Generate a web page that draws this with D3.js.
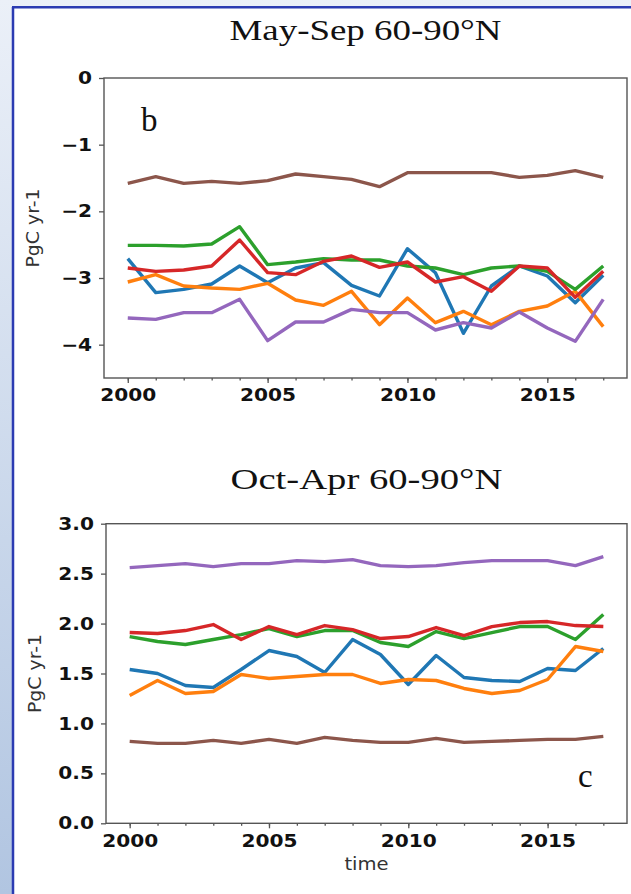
<!DOCTYPE html>
<html>
<head>
  <meta charset="UTF-8">
  <title>NEE 60-90N</title>
  <script src="https://d3js.org/d3.v7.min.js"></script>
  <style>
    body { margin: 0; padding: 0; }
    svg { display: block; }
    .tick text { font-family: "DejaVu Sans", sans-serif; font-weight: bold; font-size: 17.5px; fill: #111; }
    .tick line { stroke: #555; stroke-width: 1.3; }
    .domain { display: none; }
    .title { font-family: "Liberation Serif", "Times New Roman", serif; font-size: 30px; fill: #111; }
    .panel { font-family: "Liberation Serif", serif; font-size: 33px; fill: #111; }
    .ylab, .xlab { font-family: "DejaVu Sans", sans-serif; font-size: 17px; fill: #333; }
  </style>
</head>
<body>
<svg id="chart" width="631" height="894"></svg>
<script>
// years on the x axis
var years = d3.range(2000, 2018);
var xTicks = [2000, 2005, 2010, 2015];

// May-Sep (panel b)
var ySummerTicks = [0, -1, -2, -3, -4];
var sumBlue   = [-2.71, -3.22, -3.17, -3.09, -2.82, -3.07, -2.85, -2.77, -3.11, -3.27, -2.56, -2.92, -3.83, -3.12, -2.82, -2.97, -3.37, -2.96];
var sumOrange = [-3.06, -2.95, -3.12, -3.15, -3.17, -3.08, -3.33, -3.41, -3.20, -3.70, -3.30, -3.67, -3.50, -3.70, -3.50, -3.42, -3.20, -3.73];
var sumGreen  = [-2.51, -2.51, -2.52, -2.49, -2.23, -2.80, -2.76, -2.71, -2.73, -2.73, -2.82, -2.85, -2.95, -2.85, -2.82, -2.90, -3.17, -2.82];
var sumRed    = [-2.85, -2.90, -2.88, -2.82, -2.43, -2.92, -2.95, -2.75, -2.67, -2.84, -2.76, -3.06, -2.98, -3.20, -2.82, -2.85, -3.29, -2.90];
var sumPurple = [-3.60, -3.62, -3.52, -3.52, -3.32, -3.94, -3.66, -3.66, -3.47, -3.52, -3.52, -3.78, -3.67, -3.75, -3.51, -3.75, -3.95, -3.32];
var sumBrown  = [-1.58, -1.48, -1.58, -1.55, -1.58, -1.54, -1.44, -1.48, -1.52, -1.63, -1.42, -1.42, -1.42, -1.42, -1.49, -1.46, -1.39, -1.49];

// Oct-Apr (panel c)
var yWinterTicks = [0, 0.5, 1, 1.5, 2, 2.5, 3];
var winBlue   = [1.54, 1.50, 1.38, 1.36, 1.54, 1.73, 1.67, 1.51, 1.84, 1.69, 1.39, 1.68, 1.46, 1.43, 1.42, 1.55, 1.53, 1.75];
var winOrange = [1.28, 1.43, 1.30, 1.32, 1.49, 1.45, 1.47, 1.49, 1.49, 1.40, 1.44, 1.43, 1.35, 1.30, 1.33, 1.44, 1.77, 1.72];
var winGreen  = [1.87, 1.82, 1.79, 1.84, 1.89, 1.95, 1.87, 1.93, 1.93, 1.81, 1.77, 1.92, 1.85, 1.91, 1.97, 1.97, 1.84, 2.09];
var winRed    = [1.91, 1.90, 1.93, 1.99, 1.84, 1.97, 1.89, 1.98, 1.94, 1.85, 1.87, 1.96, 1.88, 1.97, 2.01, 2.02, 1.98, 1.97];
var winPurple = [2.56, 2.58, 2.60, 2.57, 2.60, 2.60, 2.63, 2.62, 2.64, 2.58, 2.57, 2.58, 2.61, 2.63, 2.63, 2.63, 2.58, 2.67];
var winBrown  = [0.82, 0.80, 0.80, 0.83, 0.80, 0.84, 0.80, 0.86, 0.83, 0.81, 0.81, 0.85, 0.81, 0.82, 0.83, 0.84, 0.84, 0.87];

var colors = ["#1f77b4", "#ff7f0e", "#2ca02c", "#d62728", "#9467bd", "#8c564b"];
var stretch = 1.15;  // source figure is a bit wider than tall

var svg = d3.select("#chart");

// slide background and frame
var grad = svg.append("defs").append("linearGradient")
  .attr("id", "bg").attr("x1", 0).attr("y1", 0).attr("x2", 0).attr("y2", 1);
grad.append("stop").attr("offset", "0%").attr("stop-color", "#ebf0f8");
grad.append("stop").attr("offset", "100%").attr("stop-color", "#b1c5e1");
svg.append("rect").attr("width", 631).attr("height", 894).attr("fill", "url(#bg)");
svg.append("rect").attr("x", 13).attr("y", 7).attr("width", 620).attr("height", 890).attr("fill", "#fff");
svg.append("line").attr("x1", 13).attr("y1", 7).attr("x2", 13).attr("y2", 894)
  .attr("stroke", "#2b3bb2").attr("stroke-width", 2.5);
svg.append("line").attr("x1", 12).attr("y1", 7.3).attr("x2", 631).attr("y2", 7.3)
  .attr("stroke", "#2b3bb2").attr("stroke-width", 2.5);

function widen(sel, f) {
  sel.each(function() {
    var len = this.getComputedTextLength();
    d3.select(this).attr("textLength", len * f).attr("lengthAdjust", "spacingAndGlyphs");
  });
}

function panel(opt) {
  var x = d3.scaleLinear().domain([1999.15, 2017.85]).range([opt.left, opt.right]);
  var y = d3.scaleLinear().domain(opt.yDomain).range([opt.bottom, opt.top]);
  var g = svg.append("g");

  // minor year ticks
  g.append("g").attr("transform", "translate(0," + opt.bottom + ")")
    .call(d3.axisBottom(x).tickValues(years).tickSize(2.5).tickFormat(""));

  var xa = g.append("g").attr("transform", "translate(0," + opt.bottom + ")")
    .call(d3.axisBottom(x).tickValues(xTicks).tickSize(5).tickPadding(6).tickFormat(d3.format("d")));
  widen(xa.selectAll("text"), stretch);

  var ya = g.append("g").attr("transform", "translate(" + opt.left + ",0)")
    .call(d3.axisLeft(y).tickValues(opt.yTicks).tickSize(5).tickPadding(7).tickFormat(opt.fmt));
  widen(ya.selectAll("text"), stretch);

  var line = d3.line().x(function(d, i) { return x(years[i]); }).y(function(d) { return y(d); });
  opt.series.forEach(function(s, i) {
    g.append("path").datum(s).attr("d", line)
      .attr("fill", "none").attr("stroke", colors[i]).attr("stroke-width", 3.4)
      .attr("stroke-linejoin", "round").attr("stroke-linecap", "butt");
  });

  g.append("rect").attr("x", opt.left).attr("y", opt.top)
    .attr("width", opt.right - opt.left).attr("height", opt.bottom - opt.top)
    .attr("fill", "none").attr("stroke", "#555").attr("stroke-width", 1.4);

  var t = g.append("text").attr("class", "title")
    .attr("x", (opt.left + opt.right) / 2).attr("y", opt.titleY)
    .attr("text-anchor", "middle").text(opt.title);
  t.attr("textLength", 272).attr("lengthAdjust", "spacingAndGlyphs");

  var yl = g.append("text").attr("class", "ylab")
    .attr("transform", "translate(" + opt.ylabX + "," + ((opt.top + opt.bottom) / 2) + ") rotate(-90)")
    .attr("text-anchor", "middle").text("PgC yr-1");
  yl.attr("textLength", 79).attr("lengthAdjust", "spacingAndGlyphs");

  g.append("text").attr("class", "panel")
    .attr("x", opt.tagX).attr("y", opt.tagY).text(opt.tag);

  if (opt.xlabel) {
    var xl = g.append("text").attr("class", "xlab")
      .attr("x", (opt.left + opt.right) / 2).attr("y", opt.bottom + 47)
      .attr("text-anchor", "middle").text(opt.xlabel);
    widen(xl, stretch);
  }
}

panel({
  left: 104, right: 627, top: 78, bottom: 378,
  yDomain: [-4.5, 0], yTicks: ySummerTicks,
  fmt: function(d) { return d === 0 ? "0" : "\u2212" + Math.abs(d); },
  series: [sumBlue, sumOrange, sumGreen, sumRed, sumPurple, sumBrown],
  title: "May-Sep 60-90\u00b0N", titleY: 39.5,
  ylabX: 39, tag: "b", tagX: 141, tagY: 131
});

panel({
  left: 106, right: 627, top: 523.7, bottom: 823.3,
  yDomain: [0, 3], yTicks: yWinterTicks,
  fmt: d3.format(".1f"),
  series: [winBlue, winOrange, winGreen, winRed, winPurple, winBrown],
  title: "Oct-Apr 60-90\u00b0N", titleY: 489,
  ylabX: 41, tag: "c", tagX: 578, tagY: 787,
  xlabel: "time"
});
</script>
</body>
</html>
